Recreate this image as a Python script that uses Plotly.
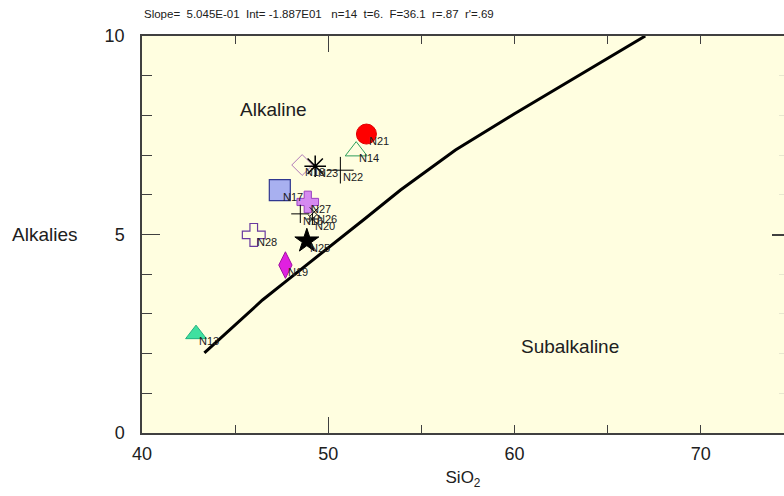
import plotly.graph_objects as go

# ---------------- data ----------------
sample_names = ["N21", "N14", "N18", "N23", "N22", "N17", "N27",
                "N16", "N26", "N20", "N28", "N25", "N19", "N13"]
sio2 = [52.05, 51.5, 48.6, 49.3, 50.65, 47.4, 48.9,
        48.5, 49.25, 49.15, 46.0, 48.85, 47.7, 42.9]
alkalies = [7.53, 7.1, 6.75, 6.72, 6.62, 6.12, 5.82,
            5.52, 5.57, 5.39, 4.99, 4.84, 4.23, 2.49]

boundary_sio2 = [43.35, 45.0, 46.47, 47.81, 50.0, 52.0, 53.88, 56.83, 60.0, 67.02]
boundary_alk = [2.02, 2.72, 3.35, 3.85, 4.66, 5.41, 6.12, 7.13, 8.04, 10.0]

x_ticks = [40, 50, 60, 70]
y_ticks = [0, 5, 10]
stats_text = ("Slope=\u00a0\u00a05.045E-01\u00a0\u00a0Int=\u00a0-1.887E01\u00a0\u00a0\u00a0n=14\u00a0\u00a0t=6."
              "\u00a0\u00a0F=36.1\u00a0\u00a0r=.87\u00a0\u00a0r'=.69")

# ---------------- styles ----------------
styles = {
    "N21": dict(symbol="circle", size=20, color="#ff0000", line="#e00000", lw=1),
    "N14": dict(symbol="triangle-up-open", size=19, color="#2e9e5a", line="#2e9e5a", lw=1),
    "N18": dict(symbol="diamond-open", size=16, color="#b07ab8", line="#b07ab8", lw=1),
    "N23": dict(symbol="asterisk-open", size=18, color="#000000", line="#000000", lw=1.5),
    "N22": dict(symbol="cross-thin-open", size=19, color="#000000", line="#000000", lw=1),
    "N17": dict(symbol="square", size=21, color="#a8b0f0", line="#303890", lw=1.2),
    "N27": dict(symbol="cross", size=18, color="#d58af0", line="#9a40c0", lw=1),
    "N16": dict(symbol="cross-thin-open", size=13, color="#000000", line="#000000", lw=1),
    "N26": dict(symbol="x-thin-open", size=9, color="#000000", line="#000000", lw=1),
    "N20": dict(symbol="asterisk-open", size=10, color="#000000", line="#000000", lw=1),
    "N28": dict(symbol="cross-open", size=19, color="#6a3aa0", line="#6a3aa0", lw=1.2),
    "N25": dict(symbol="star", size=18, color="#000000", line="#000000", lw=1),
    "N19": dict(symbol="diamond-tall", size=19, color="#e020e0", line="#a010a0", lw=1),
    "N13": dict(symbol="triangle-up", size=18, color="#40e0a0", line="#20b080", lw=1),
}

FONT = "Arial, Liberation Sans, sans-serif"
AXC = "#404040"

fig = go.Figure()

# boundary curve
fig.add_trace(go.Scatter(x=boundary_sio2, y=boundary_alk, mode="lines",
                         line=dict(color="black", width=3), hoverinfo="skip",
                         showlegend=False))

# samples
for name, xv, yv in zip(sample_names, sio2, alkalies):
    s = styles[name]
    fig.add_trace(go.Scatter(
        x=[xv], y=[yv], mode="markers", name=name, showlegend=False,
        marker=dict(symbol=s["symbol"], size=s["size"], color=s["color"],
                    line=dict(color=s["line"], width=s["lw"]))))

# sample labels
for name, xv, yv in zip(sample_names, sio2, alkalies):
    fig.add_annotation(x=xv, y=yv, text=name, showarrow=False,
                       xanchor="left", yanchor="middle", xshift=1, yshift=-7,
                       font=dict(family=FONT, size=11, color="#202020"))

# helper traces for extra axes
fig.add_trace(go.Scatter(x=[50], y=[5], xaxis="x3", yaxis="y", mode="markers",
                         marker=dict(opacity=0), hoverinfo="skip", showlegend=False))
fig.add_trace(go.Scatter(x=[50], y=[5], xaxis="x", yaxis="y2", mode="markers",
                         marker=dict(opacity=0), hoverinfo="skip", showlegend=False))

# region labels
fig.add_annotation(x=47.06, y=8.16, text="Alkaline", showarrow=False,
                   font=dict(family=FONT, size=19, color="#202020"))
fig.add_annotation(x=62.98, y=2.17, text="Subalkaline", showarrow=False,
                   font=dict(family=FONT, size=19, color="#202020"))

# y-axis title (horizontal)
fig.add_annotation(xref="paper", yref="y", x=(10 - 142) / 642, y=5, xanchor="left",
                   yanchor="middle", text="Alkalies", showarrow=False,
                   font=dict(family=FONT, size=19, color="#202020"))

# stats text
fig.add_annotation(xref="paper", yref="paper", x=0, y=1 + (36 - 14) / 397,
                   xanchor="left", yanchor="middle", text=stats_text, showarrow=False,
                   font=dict(family=FONT, size=11.5, color="#202020"))

fig.update_layout(
    width=784, height=496,
    margin=dict(l=142, r=0, t=36, b=63, autoexpand=False),
    paper_bgcolor="white", plot_bgcolor="#fffee0",
    showlegend=False,
    xaxis=dict(range=[40, 74.47], tickmode="array", tickvals=x_ticks,
               ticks="inside", ticklen=8, tickcolor=AXC, tickwidth=1,
               minor=dict(tickmode="array", tickvals=[45, 55, 65], ticks="inside",
                          ticklen=8, tickcolor=AXC, tickwidth=1),
               showline=True, linecolor=AXC, linewidth=1.5, mirror="ticks",
               showgrid=False, zeroline=False, automargin=False,
               tickfont=dict(family=FONT, size=18, color="#202020"),
               ticklabelstandoff=4,
               title=dict(text="SiO<sub>2</sub>", standoff=8,
                          font=dict(family=FONT, size=17, color="#202020"))),
    xaxis3=dict(range=[40, 74.47], overlaying="x", anchor="y", tickmode="array",
                tickvals=[50], ticks="inside", ticklen=16, tickcolor=AXC, tickwidth=1,
                showticklabels=False, showline=False, showgrid=False, zeroline=False,
                mirror="ticks"),
    yaxis=dict(range=[0, 10], tickmode="array", tickvals=y_ticks,
               ticks="inside", ticklen=18, tickcolor=AXC, tickwidth=1,
               minor=dict(tickmode="array", tickvals=[1, 2, 3, 4, 6, 7, 8, 9],
                          ticks="inside", ticklen=10, tickcolor=AXC, tickwidth=1),
               showline=True, linecolor=AXC, linewidth=1.5,
               showgrid=False, zeroline=False, automargin=False,
               tickfont=dict(family=FONT, size=18, color="#202020"),
               ticklabelstandoff=12),
    yaxis2=dict(range=[0, 10], overlaying="y", side="right", anchor="x",
                tickmode="array", tickvals=[5], ticks="inside", ticklen=12,
                tickcolor=AXC, tickwidth=1.5, showticklabels=False,
                minor=dict(tickmode="array", tickvals=[1, 2, 3, 4, 6, 7, 8, 9],
                           ticks="inside", ticklen=5, tickcolor="#e8e8d0", tickwidth=1),
                showline=False, showgrid=False, zeroline=False),
)

fig.write_html("out.html",
               config={"displayModeBar": False},
               post_script="document.body.style.margin='0';"
                           "document.body.style.overflow='hidden';")
